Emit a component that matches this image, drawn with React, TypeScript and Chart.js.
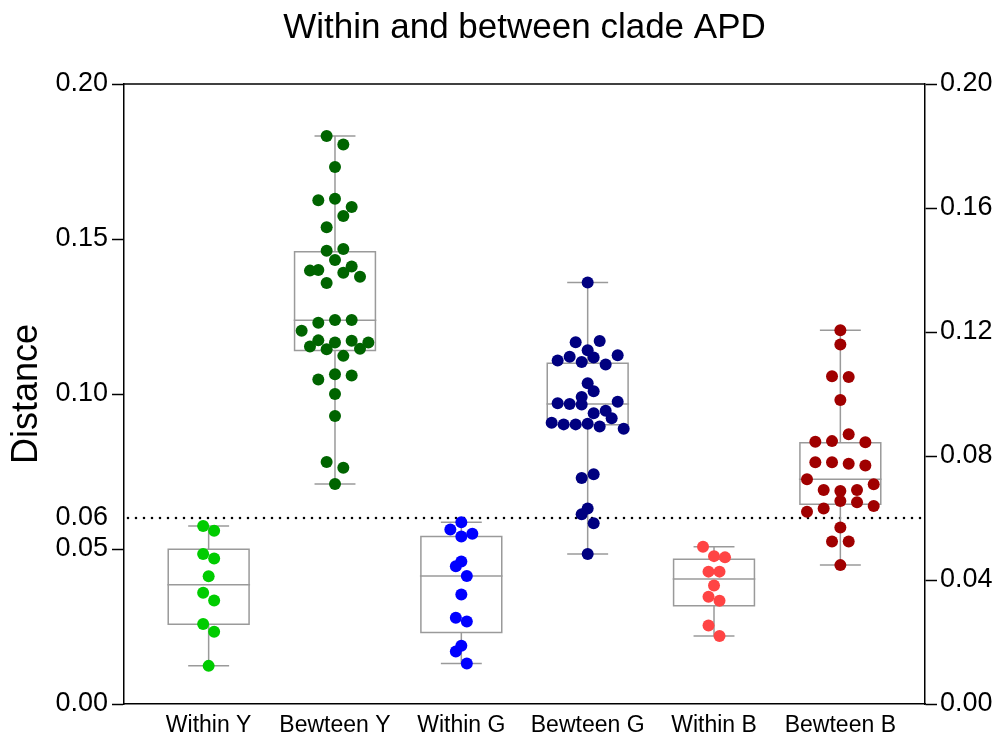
import React, { useEffect, useRef } from "react";
import { Chart, registerables } from "chart.js";

Chart.register(...registerables);

const TITLE = "Within and between clade APD";
const Y_TITLE = "Distance";
const CATEGORIES = ["Within Y", "Bewteen Y", "Within G", "Bewteen G", "Within B", "Bewteen B"];
const COLORS = ["#00CC00", "#006400", "#0000FF", "#000080", "#FF4444", "#A00000"];
const LEFT_TICKS = [0, 0.05, 0.06, 0.1, 0.15, 0.2];
const RIGHT_STEP = 0.04;
const CUTOFF = 0.06;

const withinY = [0.0574, 0.0559, 0.0484, 0.0469, 0.0412, 0.0359, 0.0334, 0.0258, 0.0233, 0.0123];
const withinYSlots = [-1, 1, -1, 1, 0, -1, 1, -1, 1, 0];

const betweenY = [0.1832, 0.1805, 0.1732, 0.1625, 0.163, 0.1603, 0.1574, 0.1538, 0.1462, 0.1468, 0.1432, 0.1398, 0.14, 0.1391, 0.1411, 0.1378, 0.1358, 0.123, 0.1239, 0.1239, 0.1204, 0.1173, 0.1153, 0.1144, 0.1166, 0.1172, 0.1146, 0.1166, 0.1123, 0.1047, 0.1064, 0.106, 0.1, 0.0929, 0.0781, 0.0762, 0.071];
const betweenYSlots = [-1, 1, 0, -2, 0, 2, 1, -1, -1, 1, 0, -3, -2, 1, 2, 3, -1, -2, 0, 2, -4, -2, -3, -1, 0, 2, 3, 4, 1, -2, 0, 2, 0, 0, -1, 1, 0];

const withinG = [0.0586, 0.0563, 0.0549, 0.054, 0.046, 0.0444, 0.0413, 0.0353, 0.0278, 0.0266, 0.0188, 0.0169, 0.0131];
const withinGSlots = [0, -2, 2, 0, 0, -1, 1, 0, -1, 1, 0, -1, 1];

const betweenG = [0.136, 0.1167, 0.1171, 0.1141, 0.112, 0.1118, 0.1125, 0.1108, 0.1103, 0.1095, 0.1035, 0.1009, 0.099, 0.097, 0.0968, 0.0966, 0.0975, 0.0938, 0.0946, 0.0922, 0.0907, 0.0902, 0.0902, 0.0904, 0.0895, 0.0888, 0.0729, 0.0741, 0.0631, 0.0612, 0.0583, 0.0484];
const betweenGSlots = [0, -2, 2, 0, -3, 1, 5, -5, -1, 3, 0, 1, -1, -5, -3, -1, 5, 1, 3, 4, -6, -4, -2, 0, 2, 6, -1, 1, 0, -1, 1, 0];

const withinB = [0.0507, 0.0477, 0.0473, 0.0427, 0.0427, 0.0382, 0.0346, 0.0333, 0.0253, 0.0219];
const withinBSlots = [-2, 0, 2, -1, 1, 0, -1, 1, -1, 1];

const betweenB = [0.1206, 0.116, 0.1057, 0.1055, 0.0981, 0.087, 0.0846, 0.0848, 0.0844, 0.078, 0.078, 0.0775, 0.0769, 0.0725, 0.0709, 0.069, 0.0687, 0.069, 0.0655, 0.0651, 0.0639, 0.0631, 0.062, 0.0569, 0.0524, 0.0524, 0.0448];
const betweenBSlots = [0, 0, -1, 1, 0, 1, -3, -1, 3, -3, -1, 1, 3, -4, 4, -2, 0, 2, 0, 2, 4, -2, -4, 0, -1, 1, 0];

// box statistics: [q1, median, q3, min, max]
const BOX_STATS = [
  [0.0257, 0.0385, 0.0499, 0.0123, 0.0574],
  [0.114, 0.1238, 0.1459, 0.071, 0.1832],
  [0.0231, 0.0413, 0.054, 0.0131, 0.0586],
  [0.0901, 0.0968, 0.1099, 0.0484, 0.136],
  [0.0317, 0.0403, 0.0467, 0.0219, 0.0507],
  [0.0644, 0.0725, 0.0843, 0.0448, 0.1206],
];

const SERIES = [withinY, betweenY, withinG, betweenG, withinB, betweenB];
const SLOTS = [withinYSlots, betweenYSlots, withinGSlots, betweenGSlots, withinBSlots, betweenBSlots];
const SLOT_STEP = [0.0435, 0.066, 0.0435, 0.0475, 0.0435, 0.066];

const FONT = "'Liberation Sans', Arial, sans-serif";
const BOX_HALF = 0.32;
const CAP_HALF = 0.162;

const boxPlugin = {
  id: "boxPlugin",
  beforeDatasetsDraw(chart: any) {
    const { ctx, chartArea } = chart;
    const x = chart.scales.x;
    const y = chart.scales.y;
    ctx.save();
    const yc = y.getPixelForValue(CUTOFF);
    ctx.strokeStyle = "#000";
    ctx.lineWidth = 2.6;
    ctx.lineCap = "round";
    ctx.setLineDash([0, 8]);
    ctx.beginPath();
    ctx.moveTo(chartArea.left + 4, yc);
    ctx.lineTo(chartArea.right, yc);
    ctx.stroke();
    ctx.setLineDash([]);
    ctx.lineCap = "butt";
    ctx.strokeStyle = "#9a9a9a";
    ctx.lineWidth = 1.5;
    BOX_STATS.forEach((s, i) => {
      const [q1, med, q3, mn, mx] = s;
      const xl = x.getPixelForValue(i - BOX_HALF);
      const xr = x.getPixelForValue(i + BOX_HALF);
      const xm = x.getPixelForValue(i);
      const cl = x.getPixelForValue(i - CAP_HALF);
      const cr = x.getPixelForValue(i + CAP_HALF);
      const y1 = y.getPixelForValue(q1);
      const y3 = y.getPixelForValue(q3);
      const ym = y.getPixelForValue(med);
      const ymin = y.getPixelForValue(mn);
      const ymax = y.getPixelForValue(mx);
      ctx.beginPath();
      ctx.rect(xl, y3, xr - xl, y1 - y3);
      ctx.moveTo(xl - 1, ym);
      ctx.lineTo(xr + 1, ym);
      ctx.moveTo(xm, y3);
      ctx.lineTo(xm, ymax);
      ctx.moveTo(xm, y1);
      ctx.lineTo(xm, ymin);
      ctx.moveTo(cl, ymax);
      ctx.lineTo(cr, ymax);
      ctx.moveTo(cl, ymin);
      ctx.lineTo(cr, ymin);
      ctx.stroke();
    });
    ctx.restore();
  },
  afterDraw(chart: any) {
    const { ctx, chartArea } = chart;
    ctx.save();
    ctx.strokeStyle = "#000";
    ctx.lineWidth = 1.5;
    ctx.beginPath();
    ctx.moveTo(chartArea.left, chartArea.top);
    ctx.lineTo(chartArea.right, chartArea.top);
    ctx.stroke();
    ctx.restore();
  },
};

export default function App() {
  const ref = useRef<HTMLCanvasElement | null>(null);
  useEffect(() => {
    document.body.style.margin = "0";
    if (!ref.current) return;
    const datasets = SERIES.map((vals, i) => ({
      label: CATEGORIES[i],
      data: vals.map((v, j) => ({ x: i + SLOTS[i][j] * SLOT_STEP[i], y: v })),
      backgroundColor: COLORS[i],
      borderColor: COLORS[i],
      pointRadius: 6,
      pointBorderWidth: 0,
      showLine: false,
    }));
    const tickColorFn = (c: any) =>
      c.tick && Math.abs(c.tick.value - CUTOFF) < 1e-9 ? "rgba(0,0,0,0)" : "#000";
    const chart = new Chart(ref.current, {
      type: "scatter",
      data: { datasets },
      plugins: [boxPlugin],
      options: {
        animation: false,
        responsive: false,
        devicePixelRatio: 1,
        layout: { padding: 0 },
        plugins: {
          legend: { display: false },
          tooltip: { enabled: false },
          title: {
            display: true,
            fullSize: false,
            align: "center",
            text: TITLE,
            color: "#000",
            font: { family: FONT, size: 35, weight: "normal" },
            padding: { top: 7, bottom: 35 },
          },
        },
        scales: {
          x: {
            type: "linear",
            position: "bottom",
            min: -0.67,
            max: 5.67,
            afterBuildTicks: (s: any) => {
              s.ticks = CATEGORIES.map((_, i) => ({ value: i }));
            },
            afterFit: (s: any) => {
              s.height = 40;
            },
            grid: { display: false, drawTicks: false },
            border: { display: true, color: "#000", width: 1.5 },
            ticks: {
              autoSkip: false,
              maxRotation: 0,
              padding: 8,
              color: "#000",
              font: { family: FONT, size: 23 },
              callback: (v: any) => CATEGORIES[v] ?? "",
            },
          },
          y: {
            type: "linear",
            position: "left",
            min: 0,
            max: 0.2,
            afterBuildTicks: (s: any) => {
              s.ticks = LEFT_TICKS.map((v) => ({ value: v }));
            },
            afterFit: (s: any) => {
              s.width = 124;
            },
            title: {
              display: true,
              text: Y_TITLE,
              color: "#000",
              font: { family: FONT, size: 36 },
              padding: { top: 5, bottom: 0 },
            },
            grid: {
              drawOnChartArea: false,
              drawTicks: true,
              tickLength: 12,
              tickWidth: 1.5,
              tickColor: tickColorFn,
            },
            border: { display: true, color: "#000", width: 1.5 },
            ticks: {
              padding: 4,
              color: "#000",
              font: { family: FONT, size: 27 },
              callback: (v: any) => Number(v).toFixed(2),
            },
          },
          y2: {
            type: "linear",
            position: "right",
            min: 0,
            max: 0.2,
            afterFit: (s: any) => {
              s.width = 74;
            },
            grid: {
              drawOnChartArea: false,
              drawTicks: true,
              tickLength: 12,
              tickWidth: 1.5,
              tickColor: "#000",
            },
            border: { display: true, color: "#000", width: 1.5 },
            ticks: {
              stepSize: RIGHT_STEP,
              padding: 3,
              color: "#000",
              font: { family: FONT, size: 27 },
              callback: (v: any) => Number(v).toFixed(2),
            },
          },
        },
      },
    } as any);
    return () => chart.destroy();
  }, []);
  return (
    <div style={{ width: 999, height: 744 }}>
      <canvas ref={ref} width={999} height={744} style={{ display: "block" }} />
    </div>
  );
}
